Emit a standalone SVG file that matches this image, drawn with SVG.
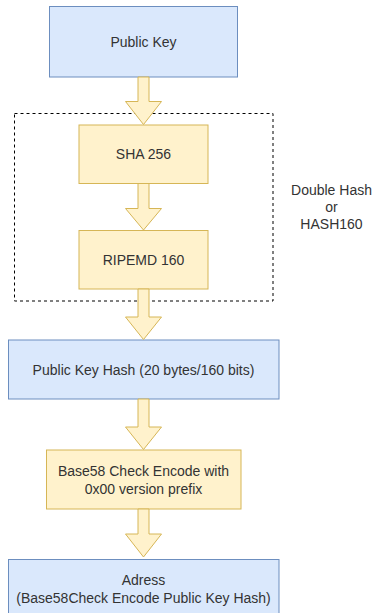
<svg xmlns="http://www.w3.org/2000/svg" width="372" height="613" viewBox="0 0 372 613">
<style>
.blue{fill:#dae8fc;stroke:#6c8ebf;stroke-width:1}
.yellow{fill:#fff2cc;stroke:#d6b656;stroke-width:1}
.arrow{fill:#fff2cc;stroke:#d6b656;stroke-width:1;stroke-linejoin:miter}
.dash{fill:none;stroke:#000;stroke-width:1;stroke-dasharray:3 3}
text{font-family:"Liberation Sans",Arial,Helvetica,sans-serif;font-size:14px;fill:#333333;text-anchor:middle}
</style>
<rect width="372" height="613" fill="#ffffff"/>
<g id="group-hash">
<rect class="dash" x="14.5" y="113.5" width="258.5" height="187.5"/>
<text x="331.5" y="195">Double Hash</text>
<text x="331.5" y="212">or</text>
<text x="331.5" y="229">HASH160</text>
</g>
<g id="node-public-key">
<rect class="blue" x="49.5" y="6.5" width="188" height="70.5"/>
<text x="143.5" y="46.5">Public Key</text>
</g>
<g id="node-sha256">
<rect class="yellow" x="79" y="125" width="129" height="58.5"/>
<text x="143.5" y="159">SHA 256</text>
</g>
<g id="node-ripemd">
<rect class="yellow" x="79" y="230.5" width="129" height="58.5"/>
<text x="143.5" y="265">RIPEMD 160</text>
</g>
<g id="node-pkh">
<rect class="blue" x="8.5" y="340" width="270.5" height="59"/>
<text x="143.5" y="374.5">Public Key Hash (20 bytes/160 bits)</text>
</g>
<g id="node-base58">
<rect class="yellow" x="46.5" y="450" width="194.5" height="59"/>
<text x="143.5" y="475.5">Base58 Check Encode with</text>
<text x="143.5" y="493.5">0x00 version prefix</text>
</g>
<g id="node-address">
<rect class="blue" x="8.5" y="559.5" width="270.5" height="60"/>
<text x="143.5" y="585">Adress</text>
<text x="143.5" y="602.5">(Base58Check Encode Public Key Hash)</text>
</g>
<g id="connectors">
<path class="arrow" d="M138,77 L149,77 L149,101.5 L161.5,101.5 L143.5,124.5 L125.5,101.5 L138,101.5 Z"/>
<path class="arrow" d="M138,183.5 L149,183.5 L149,208.5 L161.5,208.5 L143.5,230 L125.5,208.5 L138,208.5 Z"/>
<path class="arrow" d="M138,289 L149,289 L149,317 L161.5,317 L143.5,339.5 L125.5,317 L138,317 Z"/>
<path class="arrow" d="M138,399 L149,399 L149,427 L161.5,427 L143.5,449.5 L125.5,427 L138,427 Z"/>
<path class="arrow" d="M138,509 L149,509 L149,534 L161.5,534 L143.5,557 L125.5,534 L138,534 Z"/>
</g>
</svg>
